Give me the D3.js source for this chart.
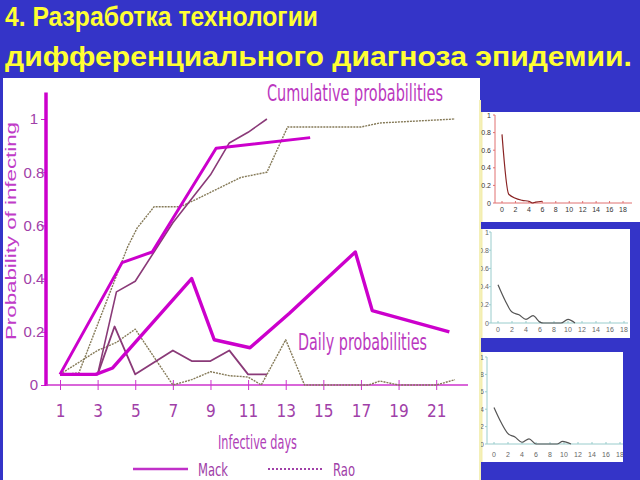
<!DOCTYPE html>
<html>
<head>
  <meta charset="UTF-8">
  <title>Probability of infecting</title>
  <style>
    body { margin: 0; background: #3434c8; }
    svg { display: block; }
  </style>
</head>
<body>
  <script src="https://cdn.jsdelivr.net/npm/d3@7"></script>
  <script>
    const width = 640,
      height = 480

    const narrow = "'Liberation Sans Narrow', 'Arial Narrow', 'DejaVu Sans Condensed', sans-serif"
    const sans = "'Liberation Sans', Arial, 'DejaVu Sans', sans-serif"

    // main chart: [infective day, probability]
    const xTicks = [1, 3, 5, 7, 9, 11, 13, 15, 17, 19, 21]
    const yTicks = [0, 0.2, 0.4, 0.6, 0.8, 1]
    const mackCumModel = [[1, 0.04], [4.3, 0.46], [5.9, 0.5], [9.3, 0.89], [14.3, 0.93]]
    const mackCumData = [[1, 0.04], [3, 0.04], [4, 0.35], [5, 0.39], [6, 0.5], [7, 0.61], [8, 0.7],
      [9, 0.79], [10, 0.91], [11, 0.95], [12, 1.0]]
    const raoCum = [[1, 0.04], [2, 0.045], [4.6, 0.52], [5.1, 0.59], [6, 0.67], [7.4, 0.67], [8.3, 0.7],
      [10.6, 0.78], [12, 0.8], [13.1, 0.97], [17, 0.97], [18, 0.985], [22, 1.0]]
    const mackDailyModel = [[1, 0.04], [2.9, 0.04], [3.8, 0.064], [8, 0.4], [9.2, 0.17], [11.1, 0.14],
      [13.2, 0.27], [16.7, 0.5], [17.6, 0.28], [21.7, 0.2]]
    const mackDailyData = [[1, 0.04], [3, 0.04], [3.9, 0.22], [5, 0.04], [7, 0.13], [8, 0.09], [9, 0.09],
      [10, 0.13], [11, 0.04], [12, 0.04]]
    const raoDaily = [[1, 0.04], [3, 0.13], [4, 0.16], [5, 0.21], [7, 0], [8, 0.02], [9, 0.05], [10, 0.035],
      [11, 0.03], [11.7, 0], [13, 0.17], [14, 0], [17.4, 0], [18, 0.015], [19, 0], [21, 0], [22, 0.02]]

    // small charts on the right: [day, probability]
    const smallXTicks = [0, 2, 4, 6, 8, 10, 12, 14, 16, 18]
    const smallYTicks = [0, 0.2, 0.4, 0.6, 0.8, 1]
    const topSmall = [[0, 0.78], [1, 0.1], [3, 0.03], [4, 0.02], [4.5, 0], [5, 0.01], [6, 0.02]]
    const midSmall = [[0, 0.42], [1, 0.25], [2, 0.12], [3, 0.09], [4, 0.04], [5, 0.08], [6, 0.01],
      [6.5, 0], [9, 0], [10, 0.04], [11, 0]]
    const lowSmall = [[0, 0.42], [1, 0.25], [2, 0.12], [3, 0.08], [4, 0.02], [5, 0.06], [6, 0],
      [9, 0], [9.8, 0.03], [11, 0]]

    const svg = d3.select('body')
      .append('svg')
      .attr('width', width)
      .attr('height', height)

    svg.append('rect')
      .attr('width', width)
      .attr('height', height)
      .attr('fill', '#3434c8')

    // title
    svg.append('text')
      .attr('x', 5)
      .attr('y', 26)
      .attr('textLength', 313)
      .attr('lengthAdjust', 'spacingAndGlyphs')
      .style('font', `bold 27px ${sans}`)
      .attr('fill', '#ffff33')
      .text('4. Разработка технологии')

    svg.append('text')
      .attr('x', 5)
      .attr('y', 66)
      .attr('textLength', 627)
      .attr('lengthAdjust', 'spacingAndGlyphs')
      .style('font', `bold 27px ${sans}`)
      .attr('fill', '#ffff33')
      .text('дифференциального диагноза эпидемии.')

    // main panel
    svg.append('rect')
      .attr('x', 3)
      .attr('y', 78)
      .attr('width', 477)
      .attr('height', 402)
      .attr('fill', '#ffffff')

    svg.append('line')
      .attr('x1', 480).attr('x2', 480)
      .attr('y1', 100).attr('y2', 480)
      .attr('stroke', '#f4f0b8')
      .attr('stroke-width', 2)

    const x = d3.scaleLinear()
      .domain([1, 22])
      .range([60, 455])

    const y = d3.scaleLinear()
      .domain([0, 1])
      .range([385, 119])

    const main = svg.append('g')

    // y axis
    const yAxis = d3.axisLeft(y)
      .tickValues(yTicks)
      .tickSize(5)
      .tickFormat(d => String(d))

    const gy = main.append('g')
      .attr('transform', 'translate(46,0)')
      .call(yAxis)
    gy.select('.domain').remove()
    gy.selectAll('.tick line').attr('stroke', '#cc22cc')
    gy.selectAll('.tick text')
      .attr('x', -12)
      .attr('text-anchor', 'middle')
      .attr('fill', '#a040a8')
      .style('font', `15px ${sans}`)

    main.append('line')
      .attr('x1', 46).attr('x2', 46)
      .attr('y1', y(0) + 1).attr('y2', y(1.1))
      .attr('stroke', '#cc00cc')
      .attr('stroke-width', 3.5)

    // x axis
    const xAxis = d3.axisBottom(x)
      .tickValues(xTicks)
      .tickSize(5)
      .tickPadding(15)

    const gx = main.append('g')
      .attr('transform', `translate(0,${y(0)})`)
      .call(xAxis)
    gx.select('.domain').remove()
    gx.selectAll('.tick line')
      .attr('y1', -5)
      .attr('stroke', '#cc33cc')
    gx.selectAll('.tick text')
      .attr('fill', '#a040a8')
      .style('font', `17px ${narrow}`)

    main.append('line')
      .attr('x1', 46).attr('x2', 468)
      .attr('y1', y(0)).attr('y2', y(0))
      .attr('stroke', '#cc33cc')
      .attr('stroke-width', 1.5)

    const line = d3.line()
      .x(d => x(d[0]))
      .y(d => y(d[1]))

    const series = [
      { data: raoCum, stroke: '#857a58', w: 1.4, dash: '2,1' },
      { data: raoDaily, stroke: '#857a58', w: 1.4, dash: '2,1' },
      { data: mackCumData, stroke: '#8a3a78', w: 1.6, dash: null },
      { data: mackDailyData, stroke: '#8a3a78', w: 1.8, dash: null },
      { data: mackCumModel, stroke: '#cc00cc', w: 3, dash: null },
      { data: mackDailyModel, stroke: '#cc00cc', w: 3.4, dash: null }
    ]

    main.selectAll('path.series')
      .data(series).enter()
      .append('path')
      .classed('series', true)
      .attr('d', d => line(d.data))
      .attr('fill', 'none')
      .attr('stroke', d => d.stroke)
      .attr('stroke-width', d => d.w)
      .attr('stroke-dasharray', d => d.dash)
      .attr('stroke-linejoin', 'round')

    // labels
    main.append('text')
      .attr('x', 267)
      .attr('y', 101)
      .attr('textLength', 176)
      .attr('lengthAdjust', 'spacingAndGlyphs')
      .style('font', `23px ${narrow}`)
      .attr('fill', '#bb38c0')
      .text('Cumulative probabilities')

    main.append('text')
      .attr('x', 298)
      .attr('y', 350)
      .attr('textLength', 129)
      .attr('lengthAdjust', 'spacingAndGlyphs')
      .style('font', `23px ${narrow}`)
      .attr('fill', '#bb38c0')
      .text('Daily probabilities')

    main.append('text')
      .attr('x', 218)
      .attr('y', 449)
      .attr('textLength', 79)
      .attr('lengthAdjust', 'spacingAndGlyphs')
      .style('font', `19px ${narrow}`)
      .attr('fill', '#b040b8')
      .text('Infective days')

    main.append('text')
      .attr('transform', 'translate(16,340) rotate(-90)')
      .attr('textLength', 218)
      .attr('lengthAdjust', 'spacingAndGlyphs')
      .style('font', `15px ${sans}`)
      .attr('fill', '#c03cc8')
      .text('Probability of infecting')

    // legend
    main.append('line')
      .attr('x1', 133).attr('x2', 188)
      .attr('y1', 469).attr('y2', 469)
      .attr('stroke', '#c030c8')
      .attr('stroke-width', 2.5)
    main.append('text')
      .attr('x', 198)
      .attr('y', 476)
      .attr('textLength', 30)
      .attr('lengthAdjust', 'spacingAndGlyphs')
      .style('font', `18px ${narrow}`)
      .attr('fill', '#a040a8')
      .text('Mack')
    main.append('line')
      .attr('x1', 268).attr('x2', 322)
      .attr('y1', 469).attr('y2', 469)
      .attr('stroke', '#a040a8')
      .attr('stroke-width', 2)
      .attr('stroke-dasharray', '2,2')
    main.append('text')
      .attr('x', 333)
      .attr('y', 476)
      .attr('textLength', 22)
      .attr('lengthAdjust', 'spacingAndGlyphs')
      .style('font', `18px ${narrow}`)
      .attr('fill', '#a040a8')
      .text('Rao')

    // small charts
    function smallChart(id, box, xr, yr, axisX, axisEnd, labelX, labelY, data, axisColor, lineColor, textColor) {
      svg.append('clipPath')
        .attr('id', id)
        .append('rect')
        .attr('x', box.x).attr('y', box.y)
        .attr('width', box.w).attr('height', box.h)

      const g = svg.append('g').attr('clip-path', `url(#${id})`)

      g.append('rect')
        .attr('x', box.x).attr('y', box.y)
        .attr('width', box.w).attr('height', box.h)
        .attr('fill', '#ffffff')

      g.append('rect')
        .attr('x', box.x).attr('y', box.y)
        .attr('width', 1.5).attr('height', box.h)
        .attr('fill', '#f4eeb0')

      const sx = d3.scaleLinear().domain([0, 18]).range(xr)
      const sy = d3.scaleLinear().domain([0, 1]).range(yr)

      g.append('line')
        .attr('x1', axisX).attr('x2', axisX)
        .attr('y1', sy(0)).attr('y2', sy(1))
        .attr('stroke', axisColor)
      g.append('line')
        .attr('x1', axisX).attr('x2', axisEnd)
        .attr('y1', sy(0)).attr('y2', sy(0))
        .attr('stroke', axisColor)

      g.selectAll('line.yt')
        .data(smallYTicks).enter()
        .append('line')
        .attr('x1', axisX - 2).attr('x2', axisX)
        .attr('y1', d => sy(d)).attr('y2', d => sy(d))
        .attr('stroke', axisColor)
      g.selectAll('line.xt')
        .data(smallXTicks).enter()
        .append('line')
        .attr('x1', d => sx(d)).attr('x2', d => sx(d))
        .attr('y1', sy(0) - 2).attr('y2', sy(0))
        .attr('stroke', axisColor)

      g.selectAll('text.yl')
        .data(smallYTicks).enter()
        .append('text')
        .attr('x', labelX)
        .attr('y', d => sy(d) + 2.5)
        .attr('text-anchor', 'end')
        .style('font', `7px ${sans}`)
        .attr('fill', textColor)
        .text(d => String(d))
      g.selectAll('text.xl')
        .data(smallXTicks).enter()
        .append('text')
        .attr('x', d => sx(d))
        .attr('y', labelY)
        .attr('text-anchor', 'middle')
        .style('font', `7px ${sans}`)
        .attr('fill', textColor)
        .text(d => String(d))

      g.append('path')
        .attr('d', d3.line().x(d => sx(d[0])).y(d => sy(d[1])).curve(d3.curveMonotoneX)(data))
        .attr('fill', 'none')
        .attr('stroke', lineColor)
        .attr('stroke-width', 1.2)
    }

    smallChart('c1', { x: 481, y: 112, w: 159, h: 110 }, [502, 623], [203, 115], 495, 632, 491, 212,
      topSmall, '#e07070', '#8a2424', '#333333')
    smallChart('c2', { x: 481, y: 229, w: 149, h: 109 }, [498, 624], [323, 232], 491, 628, 489, 332,
      midSmall, '#99cccc', '#555555', '#666666')
    smallChart('c3', { x: 481, y: 352, w: 142, h: 110 }, [494, 620], [444, 357], 487, 623, 484, 457,
      lowSmall, '#99cccc', '#555555', '#666666')
  </script>
</body>
</html>
